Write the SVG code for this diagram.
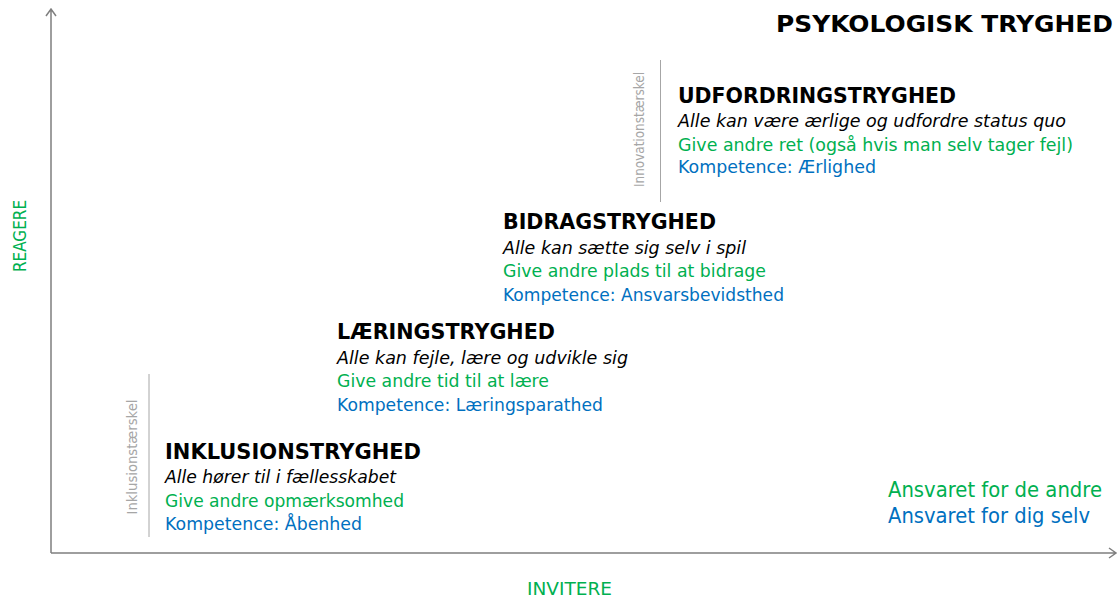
<svg xmlns="http://www.w3.org/2000/svg" width="1119" height="599" viewBox="0 0 1119 599">
<style>
text{font-family:"DejaVu Sans","Liberation Sans",sans-serif;}
.h{font-weight:bold;font-size:21px;fill:#000;}
.i{font-style:italic;font-size:18px;fill:#000;}
.g{font-size:18px;fill:#00B050;}
.b{font-size:18px;fill:#0070C0;}
.t{font-size:14px;fill:#a6a6a6;}
.ax{stroke:#7f7f7f;stroke-width:1.5;fill:none;}
.th{stroke:#a6a6a6;stroke-width:1;fill:none;}
</style>
<rect width="1119" height="599" fill="#fff"/>
<g id="axes">
<path class="ax" d="M51,553 V10 M46,16 L51,9 L56,16"/>
<path class="ax" d="M51,553 H1116 M1109,548 L1116,553 L1109,558"/>
</g>
<g id="labels">
<text x="1113" y="32" text-anchor="end" style="font-weight:bold;font-size:23px" textLength="337" lengthAdjust="spacingAndGlyphs">PSYKOLOGISK TRYGHED</text>
<text transform="rotate(-90)" x="-236" y="26" text-anchor="middle" style="font-size:18px;fill:#00B050" textLength="72" lengthAdjust="spacingAndGlyphs">REAGERE</text>
<text x="527" y="595" style="font-size:18px;fill:#00B050" textLength="85" lengthAdjust="spacingAndGlyphs">INVITERE</text>
<text x="888" y="497" style="font-size:21px;fill:#00B050" textLength="214" lengthAdjust="spacingAndGlyphs">Ansvaret for de andre</text>
<text x="888" y="523" style="font-size:21px;fill:#0070C0" textLength="202" lengthAdjust="spacingAndGlyphs">Ansvaret for dig selv</text>
</g>
<g id="thresholds">
<line class="th" x1="149" y1="374" x2="149" y2="537"/>
<text class="t" transform="rotate(-90)" x="-457" y="137" text-anchor="middle" textLength="115" lengthAdjust="spacingAndGlyphs">Inklusionstærskel</text>
<line class="th" x1="660.5" y1="60" x2="660.5" y2="202"/>
<text class="t" transform="rotate(-90)" x="-129.5" y="644" text-anchor="middle" textLength="115" lengthAdjust="spacingAndGlyphs">Innovationstærskel</text>
</g>
<g id="inklusion">
<text class="h" x="165" y="459" textLength="256" lengthAdjust="spacingAndGlyphs">INKLUSIONSTRYGHED</text>
<text class="i" x="165" y="483" textLength="231" lengthAdjust="spacingAndGlyphs">Alle hører til i fællesskabet</text>
<text class="g" x="165" y="507" textLength="239" lengthAdjust="spacingAndGlyphs">Give andre opmærksomhed</text>
<text class="b" x="165" y="530" textLength="197" lengthAdjust="spacingAndGlyphs">Kompetence: Åbenhed</text>
</g>
<g id="laering">
<text class="h" x="337" y="339" textLength="218" lengthAdjust="spacingAndGlyphs">LÆRINGSTRYGHED</text>
<text class="i" x="337" y="364" textLength="291" lengthAdjust="spacingAndGlyphs">Alle kan fejle, lære og udvikle sig</text>
<text class="g" x="337" y="387" textLength="212" lengthAdjust="spacingAndGlyphs">Give andre tid til at lære</text>
<text class="b" x="337" y="411" textLength="266" lengthAdjust="spacingAndGlyphs">Kompetence: Læringsparathed</text>
</g>
<g id="bidrag">
<text class="h" x="503" y="229" textLength="213" lengthAdjust="spacingAndGlyphs">BIDRAGSTRYGHED</text>
<text class="i" x="503" y="254" textLength="243" lengthAdjust="spacingAndGlyphs">Alle kan sætte sig selv i spil</text>
<text class="g" x="503" y="277" textLength="263" lengthAdjust="spacingAndGlyphs">Give andre plads til at bidrage</text>
<text class="b" x="503" y="301" textLength="281" lengthAdjust="spacingAndGlyphs">Kompetence: Ansvarsbevidsthed</text>
</g>
<g id="udfordring">
<text class="h" x="678" y="103" textLength="278" lengthAdjust="spacingAndGlyphs">UDFORDRINGSTRYGHED</text>
<text class="i" x="678" y="127" textLength="388" lengthAdjust="spacingAndGlyphs">Alle kan være ærlige og udfordre status quo</text>
<text class="g" x="678" y="151" textLength="395" lengthAdjust="spacingAndGlyphs">Give andre ret (også hvis man selv tager fejl)</text>
<text class="b" x="678" y="173" textLength="198" lengthAdjust="spacingAndGlyphs">Kompetence: Ærlighed</text>
</g>
</svg>
